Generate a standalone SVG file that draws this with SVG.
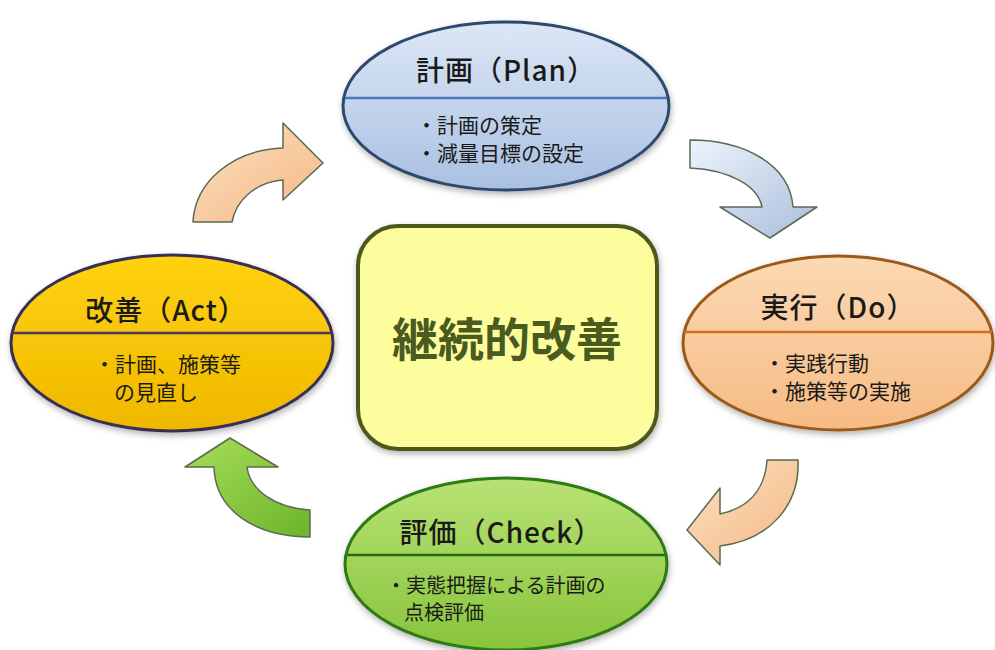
<svg xmlns="http://www.w3.org/2000/svg" width="995" height="650" viewBox="0 0 995 650">
<defs>
<style>
.title{font-family:"Noto Sans CJK JP","Noto Sans",sans-serif;font-size:28px;letter-spacing:1px;fill:#1a1a1a;text-anchor:middle;font-weight:500}
.body{font-family:"Noto Sans CJK JP","Noto Sans",sans-serif;font-size:21px;fill:#1a1a1a}
.center{font-family:"Noto Sans CJK JP",sans-serif;font-size:46px;font-weight:bold;fill:#4a5b1f;text-anchor:middle}
.arrow{stroke:#5a6a50;stroke-width:1.5;stroke-linejoin:round}
</style>
<filter id="sh" x="-10%" y="-10%" width="120%" height="130%">
<feDropShadow dx="1" dy="3" stdDeviation="3" flood-color="#000" flood-opacity="0.3"/>
</filter>
<linearGradient id="gPlan" x1="0" y1="0" x2="0" y2="1"><stop offset="0" stop-color="#dde7f5"/><stop offset="1" stop-color="#a9c0e2"/></linearGradient>
<linearGradient id="gDo" x1="0" y1="0" x2="0" y2="1"><stop offset="0" stop-color="#fcd9b4"/><stop offset="1" stop-color="#f6bb84"/></linearGradient>
<linearGradient id="gAct" x1="0" y1="0" x2="0" y2="1"><stop offset="0" stop-color="#ffd20f"/><stop offset="1" stop-color="#efb800"/></linearGradient>
<linearGradient id="gCheck" x1="0" y1="0" x2="0" y2="1"><stop offset="0" stop-color="#b8e274"/><stop offset="1" stop-color="#88c43c"/></linearGradient>
<linearGradient id="aPeach" x1="0" y1="0" x2="1" y2="1"><stop offset="0" stop-color="#fde0c2"/><stop offset="1" stop-color="#f3b883"/></linearGradient>
<linearGradient id="aBlue" x1="0" y1="0" x2="1" y2="1"><stop offset="0" stop-color="#eef3fb"/><stop offset="1" stop-color="#a9bedc"/></linearGradient>
<linearGradient id="aGreen" x1="0" y1="0" x2="1" y2="1"><stop offset="0" stop-color="#a8dc5a"/><stop offset="1" stop-color="#6cb52a"/></linearGradient>
</defs>
<rect width="995" height="650" fill="#ffffff"/>

<g id="connectors">
<path class="arrow" fill="url(#aPeach)" d="M 193 222 C 195 182, 232 150, 283 148 L 283 123 L 323 163 L 283 200 L 283 180 C 256 182, 236 200, 232 222 Z"/>
<path class="arrow" fill="url(#aBlue)" d="M 690 140 C 745 140, 790 165, 793 207 L 817 207 L 770 238 L 720 207 L 762 207 C 758 186, 730 170, 690 168 Z"/>
<path class="arrow" fill="url(#aPeach)" d="M 767 460 L 798 460 C 800 505, 770 540, 720 546 L 720 565 L 687 530 L 720 488 L 720 514 C 748 508, 765 490, 767 460 Z"/>
<path class="arrow" fill="url(#aGreen)" d="M 310 510 L 310 537 C 255 537, 215 510, 214 467 L 185 467 L 230 438 L 278 467 L 247 467 C 250 490, 275 508, 310 510 Z"/>
</g>

<g id="center">
<rect x="358" y="226" width="299" height="223" rx="40" fill="#fdfd9e" stroke="#4b5a1e" stroke-width="4" filter="url(#sh)"/>
<text class="center" x="507" y="356">継続的改善</text>
</g>

<g id="plan">
<ellipse cx="506" cy="106" rx="163" ry="84" fill="url(#gPlan)" stroke="#2f4a6e" stroke-width="3" filter="url(#sh)"/>
<line x1="345" y1="98" x2="667" y2="98" stroke="#4a78b8" stroke-width="2.5"/>
<text class="title" x="506" y="81">計画（Plan）</text>
<text class="body"><tspan x="416" y="133">・計画の策定</tspan><tspan x="416" y="161">・減量目標の設定</tspan></text>
</g>

<g id="do">
<ellipse cx="838" cy="343" rx="155" ry="87" fill="url(#gDo)" stroke="#9a5a1a" stroke-width="3" filter="url(#sh)"/>
<line x1="684" y1="332" x2="992" y2="332" stroke="#d07020" stroke-width="2.5"/>
<text class="title" x="838" y="318">実行（Do）</text>
<text class="body"><tspan x="764" y="371">・実践行動</tspan><tspan x="764" y="399">・施策等の実施</tspan></text>
</g>

<g id="act">
<ellipse cx="172" cy="343" rx="161" ry="88" fill="url(#gAct)" stroke="#3a2f55" stroke-width="3" filter="url(#sh)"/>
<line x1="13" y1="333" x2="331" y2="333" stroke="#4a3a5a" stroke-width="2.5"/>
<text class="title" x="166" y="321">改善（Act）</text>
<text class="body"><tspan x="94" y="372">・計画、施策等</tspan><tspan x="114" y="400">の見直し</tspan></text>
</g>

<g id="check">
<ellipse cx="506" cy="564" rx="161" ry="86" fill="url(#gCheck)" stroke="#2d7a12" stroke-width="3" filter="url(#sh)"/>
<line x1="347" y1="555" x2="665" y2="555" stroke="#2a6a10" stroke-width="2.5"/>
<text class="title" x="501" y="543">評価（Check）</text>
<text class="body" style="font-size:20px"><tspan x="386" y="593">・実態把握による計画の</tspan><tspan x="404" y="620">点検評価</tspan></text>
</g>
</svg>
